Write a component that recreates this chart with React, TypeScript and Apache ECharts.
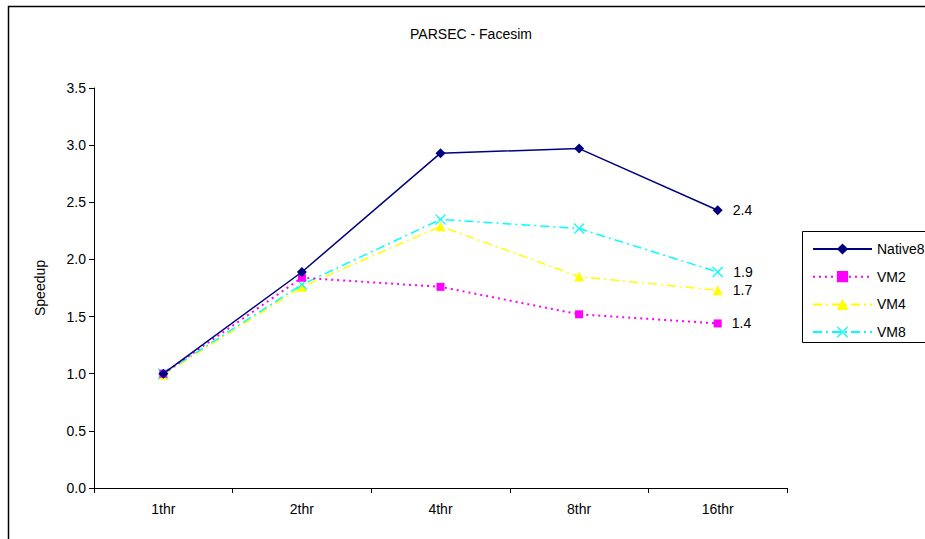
import React, { useEffect, useRef } from "react";
import * as echarts from "echarts";

const categories = ["1thr", "2thr", "4thr", "8thr", "16thr"];
const native8 = [1.0, 1.89, 2.93, 2.97, 2.43];
const vm2 = [1.0, 1.84, 1.76, 1.52, 1.44];
const vm4 = [0.99, 1.76, 2.29, 1.85, 1.73];
const vm8 = [1.0, 1.78, 2.35, 2.27, 1.89];
const yTicks = [0, 0.5, 1.0, 1.5, 2.0, 2.5, 3.0, 3.5];

const FONT = "'Liberation Sans', Arial, sans-serif";
const X_PATH =
  "path://M0,0.8L0.8,0L5,4.2L9.2,0L10,0.8L5.8,5L10,9.2L9.2,10L5,5.8L0.8,10L0,9.2L4.2,5Z";

function withEndLabel(values: number[]) {
  return values.map((v, i) =>
    i === values.length - 1 ? { value: v, label: { show: true } } : v
  );
}

export default function App() {
  const ref = useRef<HTMLDivElement>(null);
  useEffect(() => {
    if (!ref.current) return;
    const chart = echarts.init(ref.current, null, { renderer: "svg" });
    const label = {
      show: false,
      position: "right" as const,
      distance: 10,
      color: "#000",
      fontSize: 14,
      fontFamily: FONT,
      formatter: (p: any) => Number(p.value).toFixed(1),
    };
    chart.setOption({
      animation: false,
      backgroundColor: "#fff",
      title: {
        text: "PARSEC - Facesim",
        left: 466,
        top: 22,
        textAlign: "center",
        textStyle: { fontSize: 14, fontWeight: "normal", color: "#000", fontFamily: FONT },
      },
      graphic: [
        {
          type: "polyline",
          shape: { points: [[8.5, 560], [8.5, 6.5], [940, 6.5]] },
          style: { fill: "none", stroke: "#000", lineWidth: 1.5 },
          z: -10,
          silent: true,
        },
        {
          type: "polyline",
          shape: { points: [[940, 231.5], [802.5, 231.5], [802.5, 342.5], [940, 342.5]] },
          style: { fill: "#fff", stroke: "#000", lineWidth: 1 },
          z: 0,
          silent: true,
        },
      ],
      legend: {
        orient: "vertical",
        left: 807,
        top: 237,
        itemWidth: 59,
        itemHeight: 14,
        itemGap: 13.7,
        textStyle: { fontSize: 14, color: "#000", fontFamily: FONT },
        z: 10,
        data: ["Native8", "VM2", "VM4", "VM8"],
      },
      grid: { left: 94, right: 138, top: 88, bottom: 51 },
      xAxis: {
        type: "category",
        data: categories,
        boundaryGap: true,
        axisLine: { lineStyle: { color: "#000", width: 1 } },
        axisTick: { show: true, length: 5, alignWithLabel: false, lineStyle: { color: "#000" } },
        axisLabel: { color: "#000", fontSize: 14, fontFamily: FONT, margin: 14 },
        splitLine: { show: false },
      },
      yAxis: {
        type: "value",
        min: yTicks[0],
        max: yTicks[yTicks.length - 1],
        interval: 0.5,
        name: "Speedup",
        nameLocation: "middle",
        nameGap: 47,
        nameTextStyle: { color: "#000", fontSize: 14, fontFamily: FONT },
        axisLine: { show: true, lineStyle: { color: "#000", width: 1 } },
        axisTick: { show: true, length: 5, lineStyle: { color: "#000" } },
        axisLabel: {
          color: "#000",
          fontSize: 14,
          fontFamily: FONT,
          margin: 8,
          formatter: (v: number) => v.toFixed(1),
        },
        splitLine: { show: false },
      },
      series: [
        {
          name: "Native8",
          type: "line",
          data: withEndLabel(native8),
          symbol: "diamond",
          symbolSize: 10,
          color: "#000080",
          lineStyle: { color: "#000080", width: 1.5, type: "solid" },
          itemStyle: { color: "#000080" },
          label,
          z: 4,
        },
        {
          name: "VM2",
          type: "line",
          data: withEndLabel(vm2),
          symbol: "rect",
          symbolSize: 8,
          color: "#FF00FF",
          lineStyle: { color: "#FF00FF", width: 2, type: [2, 4] },
          itemStyle: { color: "#FF00FF" },
          label,
          z: 3,
        },
        {
          name: "VM4",
          type: "line",
          data: withEndLabel(vm4),
          symbol: "triangle",
          symbolSize: 10,
          color: "#FFFF00",
          lineStyle: { color: "#FFFF00", width: 1.5, type: [9, 4, 2, 4] },
          itemStyle: { color: "#FFFF00" },
          label,
          z: 2,
        },
        {
          name: "VM8",
          type: "line",
          data: withEndLabel(vm8),
          symbol: X_PATH,
          symbolSize: 11,
          color: "#00FFFF",
          lineStyle: { color: "#00FFFF", width: 1.5, type: [9, 4, 2, 4] },
          itemStyle: { color: "#00FFFF" },
          label,
          z: 2,
        },
      ],
    });
    return () => chart.dispose();
  }, []);
  return (
    <div
      ref={ref}
      style={{ position: "absolute", left: 0, top: 0, width: 925, height: 539 }}
    />
  );
}
